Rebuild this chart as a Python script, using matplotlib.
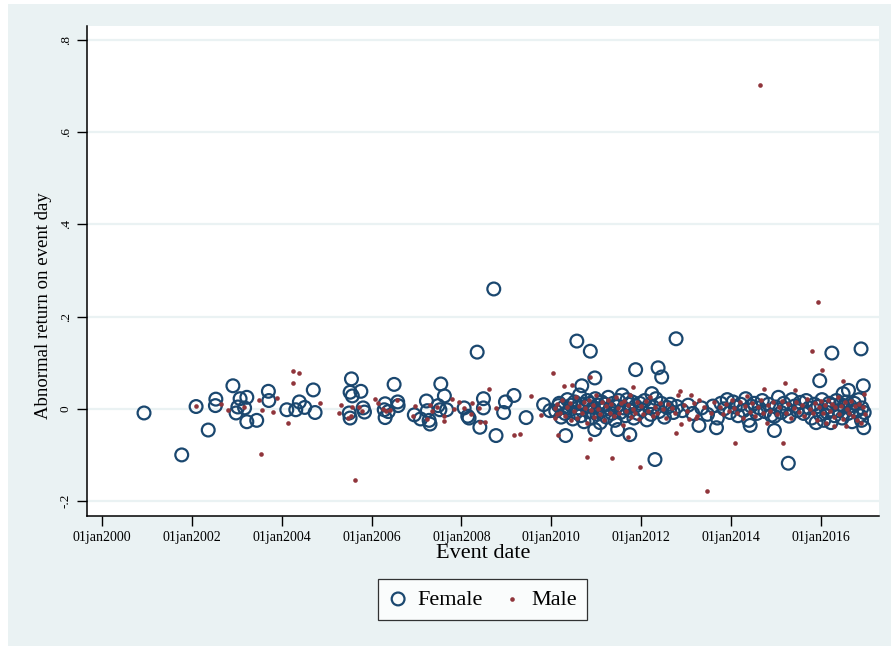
import matplotlib
matplotlib.use('Agg')
import matplotlib.pyplot as plt
from matplotlib.patches import Rectangle

plt.rcParams['font.family'] = ['Liberation Serif', 'DejaVu Serif']

# Event dates as decimal years, abnormal returns on event day
female_year = [
    2000.93, 2001.77, 2002.09, 2002.36, 2002.53, 2002.52, 2002.91, 2003.07, 2003.22, 2003.02,
    2003.17, 2002.98, 2003.22, 2003.44, 2003.70, 2003.71, 2004.11, 2004.31, 2004.39, 2004.51,
    2004.70, 2004.74, 2005.55, 2005.52, 2005.57, 2005.76, 2005.50, 2005.52, 2005.81, 2005.84,
    2006.50, 2006.30, 2006.28, 2006.37, 2006.30, 2006.58, 2006.59, 2006.95, 2007.09, 2007.22,
    2007.24, 2007.28, 2007.30, 2007.54, 2007.62, 2007.48, 2007.52, 2007.67, 2008.06, 2008.14,
    2008.17, 2008.35, 2008.49, 2008.49, 2008.41, 2008.77, 2008.98, 2008.94, 2009.17, 2009.44,
    2009.83, 2009.97, 2010.16, 2008.72, 2010.57, 2010.87, 2010.97, 2010.68, 2011.88, 2012.38,
    2012.46, 2012.24, 2010.32, 2010.97, 2011.48, 2011.75, 2012.31, 2012.78, 2013.29, 2013.68,
    2014.43, 2016.25, 2016.90, 2015.98, 2016.95, 2016.62, 2016.50, 2014.97, 2014.97, 2015.28,
    2016.96, 2016.91,
    # dense band 2010-2017
    2010.10, 2010.18, 2010.22, 2010.27, 2010.31, 2010.36, 2010.40, 2010.44, 2010.48, 2010.52,
    2010.55, 2010.60, 2010.63, 2010.66, 2010.70, 2010.73, 2010.77, 2010.80, 2010.83, 2010.86,
    2010.90, 2010.94, 2010.98, 2011.02, 2011.05, 2011.09, 2011.12, 2011.16, 2011.20, 2011.23,
    2011.27, 2011.31, 2011.35, 2011.38, 2011.42, 2011.46, 2011.50, 2011.54, 2011.58, 2011.61,
    2011.65, 2011.69, 2011.72, 2011.76, 2011.80, 2011.84, 2011.88, 2011.93, 2011.97, 2012.02,
    2012.08, 2012.13, 2012.18, 2012.22, 2012.27, 2012.33, 2012.40, 2012.45, 2012.52, 2012.58,
    2012.65, 2012.72, 2012.80, 2012.92, 2013.05, 2013.15, 2013.35, 2013.48, 2013.60, 2013.70,
    2013.78, 2013.85, 2013.92, 2013.98, 2014.05, 2014.10, 2014.16, 2014.22, 2014.28, 2014.33,
    2014.40, 2014.45, 2014.52, 2014.58, 2014.63, 2014.70, 2014.76, 2014.84, 2014.90, 2015.00,
    2015.06, 2015.12, 2015.18, 2015.25, 2015.30, 2015.36, 2015.42, 2015.48, 2015.55, 2015.62,
    2015.68, 2015.74, 2015.80, 2015.86, 2015.90, 2015.94, 2015.99, 2016.03, 2016.07, 2016.11,
    2016.15, 2016.19, 2016.23, 2016.27, 2016.31, 2016.35, 2016.40, 2016.44, 2016.48, 2016.52,
    2016.57, 2016.61, 2016.66, 2016.70, 2016.75, 2016.80, 2016.85, 2016.88, 2016.92, 2016.97,
]
female_ar = [
    -0.009, -0.100, 0.005, -0.046, 0.021, 0.007, 0.050, 0.022, 0.025, 0.004,
    0.002, -0.009, -0.028, -0.025, 0.038, 0.018, -0.002, -0.002, 0.015, 0.003,
    0.041, -0.008, 0.065, 0.036, 0.028, 0.038, -0.009, -0.020, 0.002, -0.007,
    0.053, 0.011, -0.002, -0.006, -0.019, 0.015, 0.007, -0.013, -0.022, 0.017,
    -0.004, -0.025, -0.033, 0.054, 0.028, 0.007, -0.002, -0.002, 0.002, -0.016,
    -0.020, 0.123, 0.022, 0.002, -0.040, -0.058, 0.015, -0.008, 0.029, -0.019,
    0.009, -0.004, 0.007, 0.260, 0.147, 0.125, 0.067, 0.050, 0.085, 0.089,
    0.069, 0.033, -0.058, -0.045, -0.045, -0.056, -0.110, 0.152, -0.036, -0.041,
    -0.036, 0.121, 0.130, 0.061, 0.050, 0.040, 0.033, -0.016, -0.047, -0.118,
    -0.041, -0.025,
    -0.005, 0.012, -0.018, 0.003, -0.010, 0.020, -0.003, 0.008, -0.022, 0.015,
    -0.008, 0.002, 0.030, -0.015, 0.010, -0.028, 0.005, 0.018, -0.006, 0.012,
    -0.020, 0.003, 0.022, -0.012, 0.008, -0.030, 0.015, -0.002, 0.010, -0.018,
    0.025, 0.000, -0.010, 0.012, -0.025, 0.005, 0.018, -0.008, 0.030, 0.002,
    -0.015, 0.020, 0.010, -0.004, 0.015, -0.020, 0.006, -0.010, 0.012, -0.002,
    0.018, -0.024, 0.008, -0.012, 0.004, 0.022, -0.006, 0.012, -0.018, 0.003,
    0.010, -0.008, 0.005, -0.004, 0.008, -0.010, 0.002, -0.012, 0.006, -0.020,
    0.012, 0.000, 0.020, -0.008, 0.015, 0.004, -0.015, 0.010, -0.004, 0.022,
    -0.025, 0.006, 0.012, -0.010, 0.002, 0.018, -0.006, 0.010, -0.014, 0.004,
    0.025, -0.008, 0.012, 0.000, -0.016, 0.020, 0.006, -0.004, 0.014, -0.010,
    0.018, 0.002, -0.020, 0.010, -0.030, 0.005, -0.012, 0.020, -0.025, 0.003,
    -0.008, 0.012, -0.030, 0.008, -0.015, 0.018, -0.004, 0.010, -0.020, 0.004,
    0.015, -0.010, 0.006, -0.028, 0.012, -0.005, 0.020, -0.015, 0.002, -0.008,
]

male_year = [
    2002.09, 2002.65, 2002.80, 2003.16, 2003.48, 2003.56, 2003.53, 2003.80, 2003.89, 2004.14,
    2004.25, 2004.25, 2004.39, 2004.85, 2005.32, 2005.27, 2005.57, 2005.72, 2005.78, 2005.53,
    2005.48, 2005.63, 2006.08, 2006.15, 2006.25, 2006.33, 2006.41, 2006.56, 2006.96, 2006.93,
    2007.30, 2007.34, 2007.45, 2007.24, 2007.61, 2007.61, 2007.80, 2007.83, 2007.95, 2008.06,
    2008.24, 2008.21, 2008.40, 2008.41, 2008.52, 2008.62, 2008.78, 2009.18, 2009.30, 2009.56,
    2009.77, 2010.04, 2010.08, 2010.12, 2010.08, 2010.16, 2010.28, 2010.47, 2010.87, 2011.83,
    2010.44, 2010.86, 2010.80, 2011.35, 2011.97, 2011.72, 2012.87, 2012.82, 2013.11, 2013.30,
    2014.74, 2012.90, 2012.78, 2014.09, 2013.47, 2013.07, 2013.22, 2015.80, 2016.04, 2016.50,
    2015.20, 2015.43, 2016.96, 2015.17, 2016.30, 2016.56, 2014.80, 2014.65, 2015.94,
    # dense band 2010-2017
    2010.12, 2010.20, 2010.25, 2010.30, 2010.35, 2010.42, 2010.50, 2010.55, 2010.58, 2010.62,
    2010.68, 2010.72, 2010.76, 2010.80, 2010.84, 2010.88, 2010.92, 2010.96, 2011.00, 2011.04,
    2011.08, 2011.14, 2011.18, 2011.22, 2011.26, 2011.30, 2011.34, 2011.40, 2011.44, 2011.48,
    2011.52, 2011.56, 2011.60, 2011.63, 2011.67, 2011.71, 2011.75, 2011.78, 2011.82, 2011.86,
    2011.91, 2011.95, 2012.00, 2012.05, 2012.10, 2012.16, 2012.20, 2012.26, 2012.30, 2012.36,
    2012.42, 2012.48, 2012.55, 2012.60, 2012.68, 2012.75, 2012.95, 2013.02, 2013.18, 2013.25,
    2013.40, 2013.55, 2013.62, 2013.75, 2013.82, 2013.90, 2013.96, 2014.02, 2014.08, 2014.14,
    2014.20, 2014.26, 2014.31, 2014.37, 2014.43, 2014.48, 2014.54, 2014.60, 2014.68, 2014.72,
    2014.82, 2014.88, 2014.95, 2015.02, 2015.08, 2015.15, 2015.22, 2015.28, 2015.34, 2015.40,
    2015.46, 2015.52, 2015.58, 2015.64, 2015.70, 2015.76, 2015.83, 2015.88, 2015.92, 2015.97,
    2016.01, 2016.05, 2016.09, 2016.13, 2016.17, 2016.21, 2016.25, 2016.29, 2016.33, 2016.38,
    2016.42, 2016.46, 2016.50, 2016.54, 2016.59, 2016.63, 2016.68, 2016.72, 2016.77, 2016.82,
    2016.86, 2016.90, 2016.94, 2016.98,
]
male_ar = [
    0.007, 0.010, -0.002, 0.003, 0.019, -0.002, -0.098, -0.007, 0.024, -0.030,
    0.056, 0.083, 0.077, 0.012, 0.009, -0.009, 0.004, 0.004, -0.004, -0.016,
    -0.020, -0.155, 0.021, 0.012, 0.000, -0.004, -0.002, 0.020, 0.006, -0.016,
    0.009, -0.005, 0.004, -0.022, -0.016, -0.026, 0.022, 0.000, 0.015, 0.002,
    0.013, -0.012, 0.002, -0.028, -0.029, 0.042, 0.002, -0.057, -0.055, 0.028,
    -0.014, 0.078, 0.002, -0.011, -0.020, -0.056, 0.049, 0.051, 0.069, 0.047,
    -0.024, -0.065, -0.105, -0.107, -0.126, -0.061, 0.038, 0.029, 0.030, 0.020,
    0.043, -0.033, -0.053, -0.074, -0.179, -0.022, -0.020, 0.125, 0.085, 0.060,
    0.056, 0.040, 0.033, -0.074, -0.038, -0.038, -0.031, 0.702, 0.232,
    0.010, -0.008, 0.020, -0.015, 0.004, 0.012, -0.005, 0.025, -0.020, 0.006,
    -0.010, 0.015, 0.002, -0.030, 0.020, -0.002, 0.008, -0.018, 0.030, 0.000,
    -0.012, 0.014, -0.025, 0.006, 0.020, -0.008, 0.010, -0.016, 0.025, 0.002,
    -0.010, 0.012, -0.035, 0.018, -0.004, 0.008, 0.030, -0.018, 0.000, -0.008,
    0.014, -0.022, 0.006, -0.012, 0.016, -0.004, 0.025, -0.016, 0.004, -0.008,
    0.012, 0.000, -0.020, 0.010, 0.002, -0.010, 0.008, -0.004, 0.012, -0.015,
    0.005, -0.008, 0.015, 0.004, -0.012, 0.010, -0.005, 0.020, 0.002, -0.010,
    0.015, -0.020, 0.006, 0.028, -0.006, 0.012, -0.015, 0.004, 0.020, -0.010,
    0.008, -0.004, 0.014, -0.012, 0.005, 0.018, -0.008, 0.010, -0.020, 0.002,
    0.015, -0.006, 0.008, -0.015, 0.022, 0.000, -0.010, 0.012, -0.025, 0.004,
    0.016, -0.010, 0.008, -0.030, 0.020, -0.004, 0.010, -0.018, 0.004, 0.025,
    -0.012, 0.006, -0.022, 0.014, 0.000, -0.008, 0.018, -0.015, 0.006, -0.025,
    0.010, -0.030, 0.004, -0.012,
]

x_ticks = [2000, 2002, 2004, 2006, 2008, 2010, 2012, 2014, 2016]
x_ticklabels = ['01jan%d' % y for y in x_ticks]
y_ticks = [-0.2, 0.0, 0.2, 0.4, 0.6, 0.8]
y_ticklabels = ['-.2', '0', '.2', '.4', '.6', '.8']

navy = '#1A476F'
maroon = '#90353B'
bg = '#EAF2F3'

fig = plt.figure(figsize=(8.91, 6.51), dpi=100)
fig.patch.set_facecolor('white')
fig.patches.append(Rectangle((8 / 891, 1 - 646 / 651), 883 / 891, 642 / 651,
                             transform=fig.transFigure, facecolor=bg,
                             edgecolor='none', zorder=-10))

ax = fig.add_axes([87 / 891, 1 - 516 / 651, 792 / 891, 490 / 651])
ax.set_facecolor('white')

ax.scatter(female_year, female_ar, s=85, facecolors='none', edgecolors=navy,
           linewidths=1.6, label='Female', zorder=3)
ax.scatter(male_year, male_ar, s=11, color=maroon, linewidths=0,
           label='Male', zorder=4)

ax.set_xlim(1999.66, 2017.30)
ax.set_ylim(-0.2325, 0.8305)
ax.set_xticks(x_ticks)
ax.set_xticklabels(x_ticklabels, fontsize=10)
ax.set_yticks(y_ticks)
ax.set_yticklabels(y_ticklabels, fontsize=9.5, rotation=90, va='center')
ax.tick_params(axis='both', direction='out', length=7, width=1, color='black', pad=4)

ax.grid(axis='y', color=bg, linewidth=1.6, zorder=0)
ax.set_axisbelow(True)
for side in ['top', 'right']:
    ax.spines[side].set_visible(False)
for side in ['left', 'bottom']:
    ax.spines[side].set_linewidth(1.1)
    ax.spines[side].set_color('black')

ax.set_xlabel('Event date', fontsize=16, labelpad=0)
ax.set_ylabel('Abnormal return on event day', fontsize=13.5)
ax.yaxis.set_label_coords(-0.044, 0.43)

leg = fig.legend(handles=ax.collections, labels=['Female', 'Male'],
                 loc='center', bbox_to_anchor=(482.5 / 891, 1 - 599.5 / 651),
                 ncol=2, fontsize=16, frameon=True, fancybox=False,
                 handletextpad=0.4, columnspacing=0.9, borderpad=0.45,
                 handlelength=0.9, scatterpoints=1)
leg.get_frame().set_edgecolor('black')
leg.get_frame().set_linewidth(0.9)

fig.savefig('out.png', dpi=100, facecolor=fig.get_facecolor())
